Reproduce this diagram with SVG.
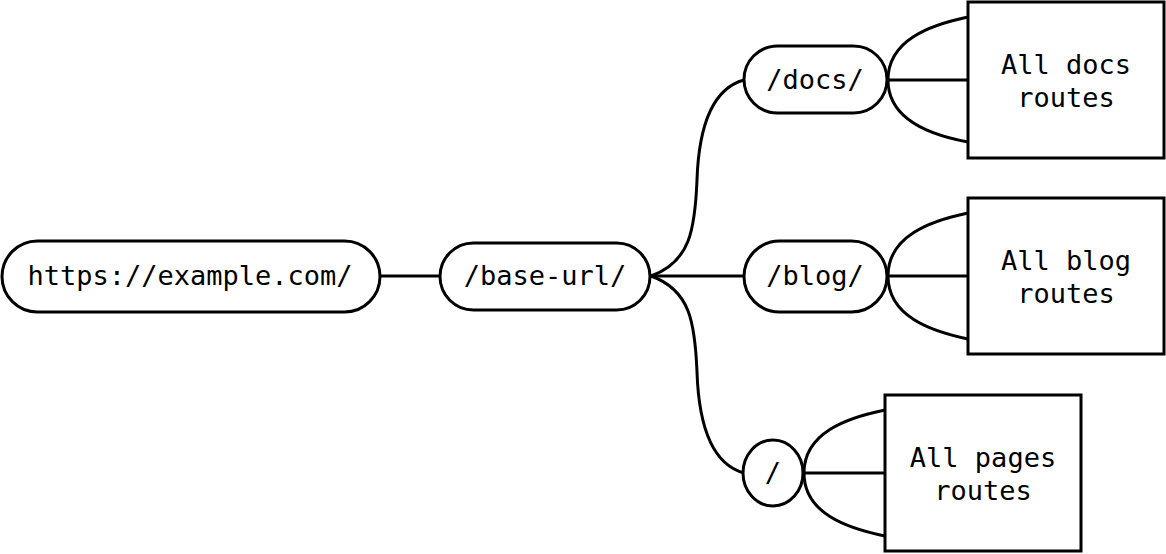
<svg xmlns="http://www.w3.org/2000/svg" width="1166" height="554" viewBox="0 0 1166 554">
<style>
.n{fill:#fff;stroke:#000;stroke-width:3}
.c{fill:none;stroke:#000;stroke-width:3}
text{font-family:"DejaVu Sans Mono","Liberation Mono",monospace;font-size:27px;fill:#000;text-anchor:middle}
</style>
<rect width="1166" height="554" fill="#fff"/>
<g id="connectors">
<path class="c" d="M380,276 H440"/>
<path class="c" d="M651,276 H744"/>
<path class="c" d="M651,276 C690,262 695,230 697,180 C699,120 715,88 744,80"/>
<path class="c" d="M651,276 C690,290 695,322 697,372 C699,432 715,465 744,473"/>
<path class="c" d="M888,80 H968 M888,80 C888,40 930,25 968,17 M888,80 C888,120 930,135 968,142"/>
<path class="c" d="M888,276 H968 M888,276 C888,236 930,221 968,213 M888,276 C888,316 930,331 968,339"/>
<path class="c" d="M804,473 H885 M804,473 C804,433 846,418 885,410 M804,473 C804,513 846,528 885,536"/>
</g>
<g id="root"><rect class="n" x="2" y="241" width="378" height="71" rx="35.5"/><text x="190" y="285">https://example.com/</text></g>
<g id="baseurl"><rect class="n" x="440" y="243" width="210" height="67" rx="33.5"/><text x="545" y="285">/base-url/</text></g>
<g id="docs"><rect class="n" x="744" y="46" width="143" height="67" rx="33.5"/><text x="815" y="89">/docs/</text></g>
<g id="blog"><rect class="n" x="744" y="241" width="143" height="71" rx="35.5"/><text x="815" y="285">/blog/</text></g>
<g id="pages"><ellipse class="n" cx="773" cy="473" rx="30" ry="33"/><text x="773" y="482">/</text></g>
<g id="docsroutes"><rect class="n" x="968" y="2" width="196" height="156"/><text x="1066" y="74">All docs</text><text x="1066" y="107">routes</text></g>
<g id="blogroutes"><rect class="n" x="968" y="198" width="196" height="156"/><text x="1066" y="270">All blog</text><text x="1066" y="303">routes</text></g>
<g id="pagesroutes"><rect class="n" x="885" y="395" width="196" height="156"/><text x="983" y="467">All pages</text><text x="983" y="500">routes</text></g>
</svg>
